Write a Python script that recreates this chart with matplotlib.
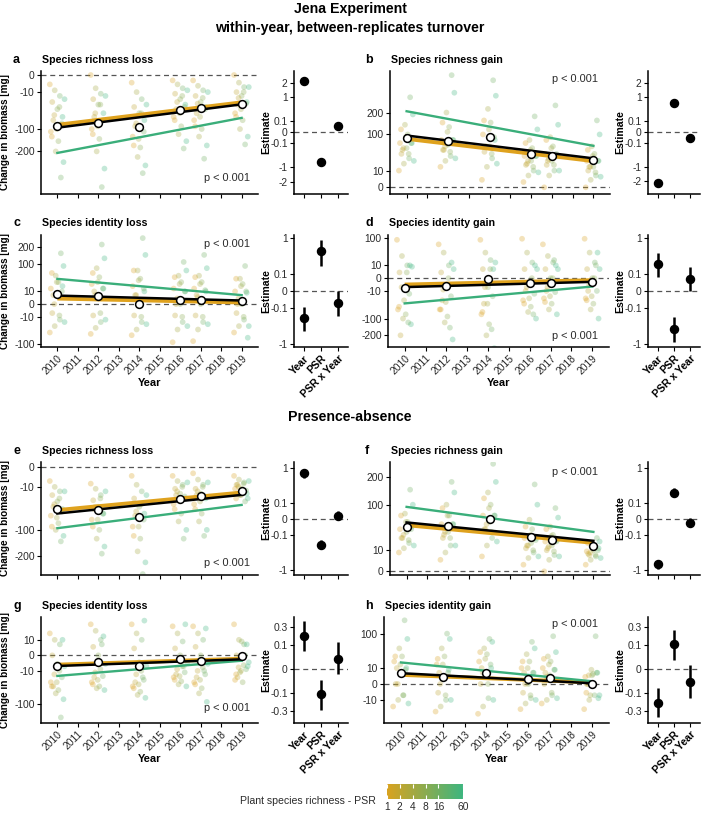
import matplotlib.pyplot as plt
import numpy as np
from matplotlib.colors import LinearSegmentedColormap, LogNorm
from matplotlib.cm import ScalarMappable

plt.rcParams['font.family'] = ['Liberation Sans', 'DejaVu Sans']

# ---- data ----
years = [2010, 2012, 2014, 2016, 2017, 2019]
psr_levels = [1, 2, 4, 8, 16, 60]
terms = ['Year', 'PSR', 'PSR x Year']

# raw points per year, 3 rows of 6 values
pts_a = [[-3, -8, -15, -25, -40, -60, -20, -35, -55, -80, -100, -130, -70, -110, -150, -200, -260, -360],
         [0, -6, -12, -20, -30, -50, -15, -30, -50, -70, -90, -120, -60, -100, -140, -200, -300, -430],
         [-2, -10, -20, -35, -50, -70, -30, -50, -80, -110, -140, -170, -90, -130, -180, -230, -280, -330],
         [-1, -3, -6, -12, -20, -30, -8, -15, -25, -35, -50, -70, -40, -60, -90, -120, -150, -185],
         [-1, -4, -8, -15, -25, -35, -10, -18, -28, -40, -60, -90, -50, -70, -100, -130, -170, -240],
         [0, -2, -5, -10, -15, -25, -5, -10, -18, -28, -40, -60, -30, -50, -70, -100, -130, -165]]
pts_b = [[10, 20, 30, 40, 55, 70, 25, 40, 55, 70, 90, 120, 50, 70, 100, 140, 190, 290],
         [15, 25, 35, 50, 65, 80, 30, 45, 60, 80, 110, 150, 50, 80, 130, 200, 320, 450],
         [2, 15, 30, 45, 60, 80, 20, 40, 60, 90, 120, 160, 60, 100, 150, 220, 300, 410],
         [1, 5, 10, 18, 25, 35, 8, 15, 25, 35, 50, 70, 20, 35, 55, 80, 120, 180],
         [0, 5, 10, 18, 25, 35, 10, 18, 28, 40, 55, 80, 25, 40, 60, 90, 140, 240],
         [0, 2, 5, 10, 15, 25, 4, 8, 15, 25, 35, 50, 15, 25, 40, 60, 100, 160]]
pts_c = [[-50, -30, -15, -5, 5, 20, -20, -8, 0, 10, 30, 60, 5, 15, 30, 50, 90, 160],
         [-55, -35, -20, -8, 2, 15, -15, -5, 5, 15, 30, 60, 10, 25, 45, 80, 130, 220],
         [-60, -40, -20, -8, 0, 10, -25, -10, 5, 15, 35, 70, 5, 20, 40, 70, 150, 270],
         [-90, -40, -20, -8, 0, 10, -30, -10, 2, 10, 25, 45, 0, 15, 30, 50, 70, 110],
         [-85, -40, -20, -8, 0, 10, -25, -10, 3, 12, 25, 45, 5, 15, 30, 50, 80, 150],
         [-50, -30, -15, -5, 0, 8, -30, -10, 2, 10, 20, 40, 0, 10, 25, 40, -70, 90]]
pts_d = [[90, 30, 10, 2, -5, 10, 8, 2, -5, -15, -30, -50, -200, -60, -80, -100, -130, -120],
         [70, 40, 10, 2, -5, 15, 5, 0, -8, -20, -35, -60, -30, -60, -90, -120, -230, -150],
         [90, 40, 20, 5, -5, 5, 15, 5, -5, -20, -40, -70, -40, -80, -130, -200, -300, -160],
         [95, 40, 15, 5, -2, 10, 5, 0, -5, -15, -25, -40, -10, -30, -50, -70, -100, -80],
         [70, 30, 15, 5, 0, 10, 5, 0, -5, -12, -20, -35, -10, -25, -40, -60, -80, 20],
         [95, 40, 15, 5, 0, 40, 5, 0, -3, -10, -20, -30, -10, -25, -40, -60, -100, 10]]
pts_e = [[-5, -10, -15, -20, -30, -45, -15, -25, -35, -50, -65, -90, -40, -60, -80, -100, -120, -140],
         [-7, -12, -20, -28, -40, -55, -15, -25, -40, -55, -70, -90, -45, -70, -100, -130, -160, -190],
         [-2, -8, -15, -25, -40, -55, -20, -35, -50, -70, -90, -120, -60, -90, -130, -180, -230, -290],
         [-2, -5, -8, -12, -18, -25, -6, -10, -15, -22, -30, -45, -20, -35, -55, -75, -100, -130],
         [-1, -4, -8, -12, -18, -25, -6, -10, -15, -22, -30, -45, -20, -35, -55, -75, -100, -120],
         [-2, -4, -6, -8, -12, -18, -5, -7, -10, -14, -20, -25, -8, -12, -15, -20, -25, -30]]
pts_f = [[8, 12, 18, 25, 35, 45, 15, 22, 30, 40, 55, 70, 25, 40, 55, 75, 100, 150],
         [3, 8, 15, 25, 35, 50, 15, 25, 35, 50, 70, 90, 30, 50, 70, 100, 140, 180],
         [5, 15, 25, 40, 55, 70, 20, 35, 50, 70, 90, 120, 40, 70, 100, 140, 180, 260],
         [1, 4, 8, 12, 18, 25, 5, 10, 15, 22, 30, 45, 15, 25, 40, 60, 100, 170],
         [0, 3, 6, 10, 15, 22, 5, 9, 14, 20, 28, 40, 12, 20, 30, 45, 65, 90],
         [1, 3, 5, 7, 10, 12, 4, 6, 8, 10, 14, 18, 6, 9, 12, 16, 20, 25]]
pts_g = [[20, 10, 5, 0, -3, 10, -5, -10, -15, -20, -30, -40, -40, -30, -50, -60, -80, -160],
         [40, 25, 10, 3, 0, 15, -3, -8, -12, -18, -25, -35, -20, -30, -40, -45, -50, 5],
         [40, 20, 10, 2, -2, 50, -5, -10, -15, -25, -35, -45, -30, -40, -55, -65, -75, -20],
         [35, 20, 8, 2, 0, 40, -2, -5, -8, -12, -18, -25, -15, -20, -28, -35, -40, -5],
         [35, 20, 10, 3, 0, 30, -3, -6, -10, -15, -25, -35, -20, -30, -45, -60, -90, -10],
         [40, 10, 5, 0, 8, 5, -2, -4, -6, -8, -10, -15, -20, -25, -30, -12, -5, 0]]
pts_h = [[-20, -10, -5, 0, 5, 10, -15, -5, 0, 8, 15, 30, 10, 20, 30, 50, 80, 160],
         [-30, -20, -10, -3, 2, 8, -10, -5, 0, 5, 15, 25, 5, 15, 30, 50, 80, 100],
         [-35, -20, -8, 0, 5, 10, -10, 0, 5, 15, 25, 40, 10, 20, 35, 50, 70, 80],
         [-25, -15, -8, -3, 0, 5, -10, -5, 0, 5, 10, 20, 5, 10, 20, 35, 50, 70],
         [-15, -10, -5, 0, 3, 8, -8, -3, 2, 8, 15, 25, 5, 10, 20, 30, 40, 90],
         [-25, -10, -5, 0, 3, 5, -5, 0, 3, 5, 8, -3, 0, 2, 4, -5, -8, 90]]
# PSR level (index into psr_levels) of each of the 18 values in a year
pt_level = [0, 2, 4, 1, 3, 5, 5, 3, 1, 4, 2, 0, 1, 0, 3, 2, 5, 4]

# yearly means (white circles)
means_a = [-89, -78, -93, -41, -37, -28]
means_b = [87.6, 76, 91, 39.5, 35.5, 27]
means_c = [6.5, 3.6, 0.02, 1.14, 1.14, 0.67]
means_d = [-6.1, -3.6, -0.01, -1.2, -1.2, -0.83]
means_e = [-45, -46.6, -62, -25.8, -22, -14.9]
means_f = [44.6, 46.6, 60.6, 25.9, 22.4, 14.7]
means_g = [-4.4, -1.85, -5, -0.66, -1.48, -0.01]
means_h = [4.6, 1.8, 4.6, 0.89, 1.6, 0.0]

# fitted lines at 2010 and 2019: overall, PSR = 1, PSR = 60
fit_all = {'a': [-95, -29.5], 'b': [96, 30], 'c': [4.5, 0.8], 'd': [-4.9, -0.83],
           'e': [-54.7, -19.7], 'f': [53.8, 21], 'g': [-4.7, -0.66], 'h': [4.6, 0.02]}
fit_low = {'a': [-85, -25.6], 'b': [84, 24.6], 'c': [1.9, 0.16], 'd': [-2.5, -0.25],
           'e': [-47, -16.5], 'f': [48, 18.3], 'g': [-3.6, -0.48], 'h': [3.3, 0.1]}
fit_high = {'a': [-208, -63], 'b': [207, 61.6], 'c': [39.5, 5], 'd': [-39, -4.3],
            'e': [-94.7, -36.4], 'f': [93.5, 35], 'g': [-17.6, -1.2], 'h': [18.3, 0.3]}

# model estimates (Year, PSR, PSR x Year) with interval ends
est = {'a': [2.15, -0.70, 0.027], 'b': [-2.17, 0.705, -0.026], 'c': [-0.26, 0.56, -0.053],
       'd': [0.254, -0.51, 0.051], 'e': [0.81, -0.26, 0.0035], 'f': [-0.8, 0.26, -0.006],
       'g': [0.184, -0.108, 0.017], 'h': [-0.193, 0.108, -0.029]}
est_lo = {'a': [1.89, -0.865, 0.005], 'b': [-2.43, 0.56, -0.0625], 'c': [-0.56, 0.22, -0.23],
          'd': [0.073, -0.95, 0.0], 'e': [0.656, -0.36, -0.001], 'f': [-0.98, 0.18, -0.02],
          'g': [0.053, -0.286, -0.0044], 'h': [-0.4, 0.015, -0.14]}
est_hi = {'a': [2.42, -0.56, 0.0635], 'b': [-1.9, 0.865, -0.005], 'c': [-0.096, 0.9, 0.0],
          'd': [0.51, -0.25, 0.21], 'e': [0.98, -0.18, 0.022], 'f': [-0.65, 0.36, 0.0001],
          'g': [0.39, -0.022, 0.122], 'h': [-0.0625, 0.254, 0.002]}

titles = {'a': 'Species richness loss', 'b': 'Species richness gain',
          'c': 'Species identity loss', 'd': 'Species identity gain',
          'e': 'Species richness loss', 'f': 'Species richness gain',
          'g': 'Species identity loss', 'h': 'Species identity gain'}
points = {'a': pts_a, 'b': pts_b, 'c': pts_c, 'd': pts_d, 'e': pts_e, 'f': pts_f, 'g': pts_g, 'h': pts_h}
means = {'a': means_a, 'b': means_b, 'c': means_c, 'd': means_d,
         'e': means_e, 'f': means_f, 'g': means_g, 'h': means_h}

# ---- layout (pixels: left, top, right, bottom) ----
main_box = {'a': (41, 71, 258, 194), 'b': (390, 71, 610, 194),
            'c': (41, 235, 258, 347), 'd': (388, 235, 609, 347),
            'e': (41, 462, 258, 575), 'f': (390, 462, 610, 575),
            'g': (41, 617, 258, 723), 'h': (384, 617, 609, 723)}
ylims = {'a': (-485, 0.55), 'b': (-1.6, 484), 'c': (-114, 296), 'd': (-290, 114),
         'e': (-295, 0.63), 'f': (-0.3, 269), 'g': (-190, 61), 'h': (-60, 177)}
yticks = {'a': [0, -10, -100, -200], 'b': [0, 10, 100, 200],
          'c': [200, 100, 10, 0, -10, -100], 'd': [100, 10, 0, -10, -100, -200],
          'e': [0, -10, -100, -200], 'f': [200, 100, 10, 0],
          'g': [10, 0, -10, -100], 'h': [100, 10, 0, -10]}
eylims = {'a': (-3.1, 3.05), 'b': (-3.15, 3.05), 'c': (-1.12, 1.1), 'd': (-1.13, 1.12),
          'e': (-1.22, 1.25), 'f': (-1.22, 1.25), 'g': (-0.5, 0.46), 'h': (-0.5, 0.46)}
eticks = {'a': [2, 1, 0.1, 0, -0.1, -1, -2], 'b': [2, 1, 0.1, 0, -0.1, -1, -2],
          'c': [1, 0.1, 0, -0.1, -1], 'd': [1, 0.1, 0, -0.1, -1],
          'e': [1, 0.1, 0, -0.1, -1], 'f': [1, 0.1, 0, -0.1, -1],
          'g': [0.3, 0.1, 0, -0.1, -0.3], 'h': [0.3, 0.1, 0, -0.1, -0.3]}
pval_pos = {'a': (250, 178), 'b': (598, 79), 'c': (250, 244), 'd': (598, 336),
            'e': (250, 563), 'f': (598, 472), 'g': (250, 708), 'h': (598, 624)}
title_y = {'a': 60, 'b': 60, 'c': 223, 'd': 223, 'e': 451, 'f': 451, 'g': 606, 'h': 606}

W, H = 701, 813
fig = plt.figure(figsize=(W / 100, H / 100), dpi=100)

TXT = '#2b2b2b'
cmap = LinearSegmentedColormap.from_list('psr', ['#D9A21F', '#3DB57F'])
norm = LogNorm(1, 60)
dodge = [-0.32, -0.2, -0.08, 0.05, 0.17, 0.3]
shift = [-0.05, 0.05, 0.0]


def rect(l, t, r, b):
    return [l / W, 1 - b / H, (r - l) / W, (b - t) / H]


def fwd(v):
    v = np.asarray(v, dtype=float)
    return np.sign(v) * np.sqrt(np.abs(v))


def inv(v):
    v = np.asarray(v, dtype=float)
    return np.sign(v) * v * v


def ftext(x, y, s, **kw):
    fig.text(x / W, 1 - y / H, s, **kw)


def style(ax):
    for s in ['top', 'right']:
        ax.spines[s].set_visible(False)
    for s in ['left', 'bottom']:
        ax.spines[s].set_linewidth(1.1)
    ax.tick_params(length=3, width=0.8, labelsize=7.4, labelcolor=TXT, pad=1.5)
    ax.minorticks_off()


def fmt(t):
    return '%g' % t


for key in 'abcdefgh':
    l, t, r, b = main_box[key]
    left_col = l < 300
    bottom_row = key in 'cdgh'

    # main panel
    ax = fig.add_axes(rect(l, t, r, b))
    ax.set_yscale('function', functions=(fwd, inv))
    xs, ys, cs = [], [], []
    for yr, vals in zip(years, points[key]):
        for i, v in enumerate(vals):
            k = pt_level[i]
            xs.append(yr + dodge[k] + shift[i // 6])
            ys.append(v)
            cs.append(cmap(norm(psr_levels[k])))
    ax.scatter(xs, ys, s=17, c=cs, alpha=0.3, lw=0, zorder=2)
    ax.axhline(0, color='#555555', lw=0.9, ls=(0, (4, 3)), zorder=1)
    ends = [years[0], years[-1]]
    ax.plot(ends, fit_low[key], color='#DFA21E', lw=2.8, zorder=3, solid_capstyle='butt')
    ax.plot(ends, fit_high[key], color='#3AAE7A', lw=1.7, zorder=3)
    ax.plot(ends, fit_all[key], color='black', lw=1.8, zorder=4)
    ax.plot(years, means[key], 'o', ms=5.6, mfc='white', mec='black', mew=1.1, zorder=5)
    ax.set_xlim(2009.2, 2019.8)
    ax.set_ylim(*ylims[key])
    ax.set_xticks(range(2010, 2020))
    ax.set_yticks(yticks[key])
    ax.set_yticklabels([fmt(v) for v in yticks[key]])
    style(ax)
    if bottom_row:
        ax.set_xticklabels([str(y) for y in range(2010, 2020)], rotation=45,
                           ha='right', rotation_mode='anchor')
        ax.set_xlabel('Year', fontsize=8, fontweight='bold')
        ax.xaxis.set_label_coords(0.5, -31 / (b - t))
    else:
        ax.tick_params(labelbottom=False)
    if left_col:
        ax.set_ylabel('Change in biomass [mg]', fontsize=7.2, fontweight='bold')
        ax.yaxis.set_label_coords((10 - l) / (r - l), 0.5)

    px, py = pval_pos[key]
    ftext(px, py, 'p < 0.001', fontsize=7.9, ha='right', va='center', color=TXT)
    ftext(13 if left_col else 365, title_y[key], key, fontsize=9, fontweight='bold',
          va='center')
    ftext(l + 1, title_y[key], titles[key], fontsize=7.7, fontweight='bold', va='center')

    # estimate panel
    el, er = (294, 348) if left_col else (648, 700)
    ex = fig.add_axes(rect(el, t, er, b))
    ex.set_yscale('function', functions=(fwd, inv))
    ex.axhline(0, color='#555555', lw=0.9, ls=(0, (4, 3)), zorder=1)
    pos = [1, 2, 3]
    ex.vlines(pos, est_lo[key], est_hi[key], color='black', lw=1.8, zorder=3)
    ex.plot(pos, est[key], 'o', color='black', ms=5.8, zorder=4)
    ex.set_xlim(0.4, 3.6)
    ex.set_ylim(*eylims[key])
    ex.set_xticks(pos)
    ex.set_yticks(eticks[key])
    ex.set_yticklabels([fmt(v) for v in eticks[key]])
    style(ex)
    if bottom_row:
        ex.set_xticklabels(terms, rotation=45, ha='right', rotation_mode='anchor',
                           fontweight='bold', fontsize=7.6, color='black')
    else:
        ex.tick_params(labelbottom=False)
    ex.set_ylabel('Estimate', fontsize=7.6, fontweight='bold')
    ex.yaxis.set_label_coords((271 + (0 if left_col else 354) - el) / (er - el), 0.5)

# headers
ftext(350, 9, 'Jena Experiment', fontsize=10.2, fontweight='bold', ha='center', va='center')
ftext(350, 28, 'within-year, between-replicates turnover', fontsize=10.2,
      fontweight='bold', ha='center', va='center')
ftext(350, 417, 'Presence-absence', fontsize=10.2, fontweight='bold', ha='center', va='center')

# colour bar
cax = fig.add_axes(rect(387, 784, 463, 799))
cb = fig.colorbar(ScalarMappable(norm=norm, cmap=cmap), cax=cax, orientation='horizontal')
cb.outline.set_visible(False)
cax.minorticks_off()
cb.set_ticks(psr_levels)
cb.set_ticklabels([str(p) for p in psr_levels])
cax.tick_params(direction='in', color='white', length=3, width=0.8, top=True,
                labelsize=7.4, labelcolor=TXT, pad=2)
ftext(376, 801, 'Plant species richness - PSR', fontsize=7.6, ha='right', va='center',
      color=TXT)

fig.savefig('out.png', dpi=100)
